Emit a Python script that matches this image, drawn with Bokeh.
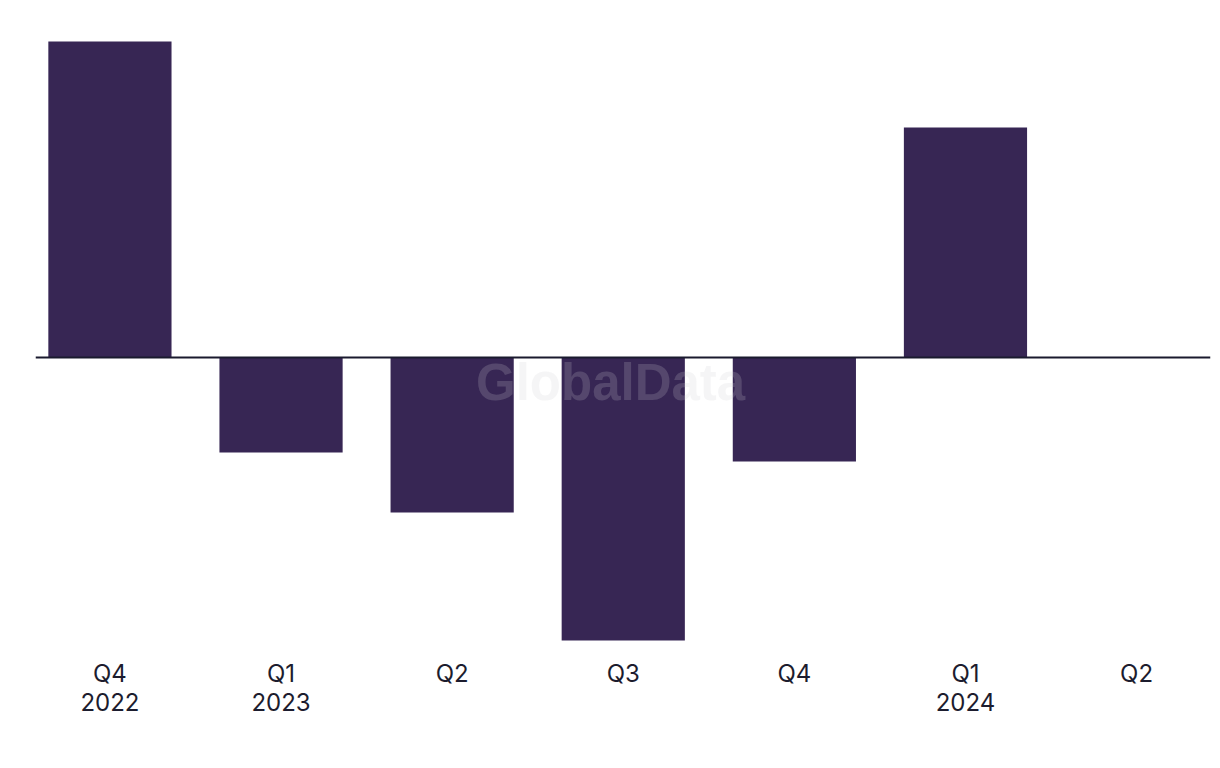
from bokeh.plotting import figure
from bokeh.models import ColumnDataSource, Range1d, Span, Label, FixedTicker
from bokeh.embed import file_html
from bokeh.resources import INLINE

quarters = ["Q4", "Q1", "Q2", "Q3", "Q4", "Q1", "Q2"]
years = ["2022", "2023", "", "", "", "2024", ""]
values = [31.6, -9.5, -15.5, -28.3, -10.4, 23.0, 0.0]

xs = list(range(len(values)))
labels = [q + ("\n" + y if y else "") for q, y in zip(quarters, years)]

src = ColumnDataSource(dict(x=xs, top=values))

p = figure(frame_width=1175, frame_height=630, output_backend="svg", toolbar_location=None,
           x_range=Range1d(-0.435, 6.432), y_range=Range1d(-29.2, 33.8),
           min_border_left=35, min_border_right=2, min_border_top=19, min_border_bottom=90)

p.vbar(x="x", top="top", bottom=0, width=0.72, source=src,
       fill_color="#372654", line_color=None)

p.add_layout(Span(location=0, dimension="width", line_color="#1a1a2e", line_width=2))

p.add_layout(Label(x=2.926, y=-2.5, text="GlobalData", text_align="center", text_baseline="middle",
                   text_font="Liberation Sans", text_font_style="bold", text_font_size="51px",
                   text_color="#cdcdd2", text_alpha=0.2))

p.yaxis.visible = False
p.grid.visible = False
p.outline_line_color = None
xa = p.xaxis[0]
xa.ticker = FixedTicker(ticks=xs)
xa.major_label_overrides = {i: l for i, l in zip(xs, labels)}
xa.axis_line_color = None
xa.major_tick_line_color = None
xa.minor_tick_line_color = None
xa.major_label_text_font = "Inter"
xa.major_label_text_font_size = "24px"
xa.major_label_text_color = "#1c1c2e"
xa.major_label_standoff = 3
xa.major_label_text_line_height = 1.0

open("out.html", "w").write(file_html(p, INLINE))
